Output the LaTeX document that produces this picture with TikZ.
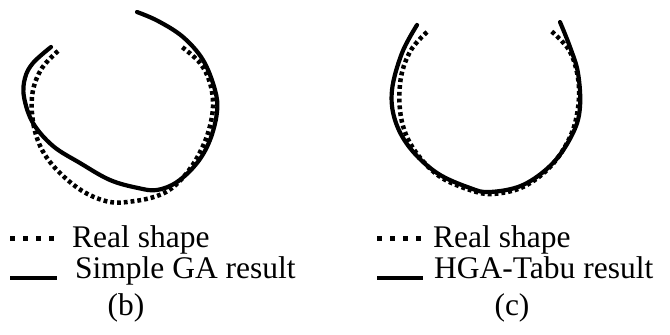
\documentclass[tikz,border=0pt]{standalone}
\usepackage{fontspec}
\setmainfont{Liberation Serif}
\begin{document}
\begin{tikzpicture}[x=1pt,y=-1pt,
  solidcurve/.style={line width=4.2pt,line cap=round},
  realcurve/.style={line width=4.5pt,dash pattern=on 3.8pt off 3pt},
  legsolid/.style={line width=4.5pt},
  legdots/.style={line width=5pt,dash pattern=on 5pt off 8pt},
  lab/.style={anchor=base west,inner sep=0pt,font=\fontsize{31.5}{37}\selectfont},
  figcaption/.style={anchor=base,inner sep=0pt,font=\fontsize{31.5}{37}\selectfont}]
\useasboundingbox (0,0) rectangle (670,335);
% (b) Simple GA
\draw[realcurve] plot[smooth,tension=0.6] coordinates {
 (58,51) (42,68) (33,90) (32,113) (36,135) (45,155) (61,174) (84,192) (110,202) (135,201) (157,196) (172,188) (186,174) (198,156) (208,133) (213,107) (210,83) (200,63) (182,47)};
\draw[solidcurve] plot[smooth,tension=0.6] coordinates {
 (137,12) (158,21) (183,37) (203,60) (215,90) (217,112) (210,140) (197,163) (177,182) (157,190) (138,188) (110,180) (80,163) (53,146) (33,123) (24,97) (25,78) (33,63) (51,47)};
% (c) HGA-Tabu
\draw[realcurve] plot[smooth,tension=0.6] coordinates {
 (427,32) (411,50) (401,77) (400,110) (407,137) (422,160) (442,178) (470,190) (492,194) (523,187) (551,166) (570,137) (578,108) (578,78) (569,50) (550,30)};
\draw[solidcurve] plot[smooth,tension=0.6] coordinates {
 (417,25) (402,53) (392,90) (395,120) (410,148) (437,173) (470,188) (490,192) (523,185) (553,163) (573,133) (580,107) (578,73) (570,47) (560,22)};
% legends
\coordinate (bd1) at (10,238); \coordinate (bd2) at (56,238);
\coordinate (bs1) at (10,278); \coordinate (bs2) at (57,278);
\draw[legdots] (bd1) -- (bd2);
\draw[legsolid] (bs1) -- (bs2);
\node[lab] (breal) at (72,247) {Real shape};
\node[lab] (bres) at (75,278) {Simple GA result};
\node[figcaption] (bcap) at (126,315) {(b)};
\coordinate (cd1) at (377,238); \coordinate (cd2) at (423,238);
\coordinate (cs1) at (377,278); \coordinate (cs2) at (423,278);
\draw[legdots] (cd1) -- (cd2);
\draw[legsolid] (cs1) -- (cs2);
\node[lab] (creal) at (433,247) {Real shape};
\node[lab] (cres) at (434,278) {HGA-Tabu result};
\node[figcaption] (ccap) at (512,315) {(c)};
\end{tikzpicture}
\end{document}
